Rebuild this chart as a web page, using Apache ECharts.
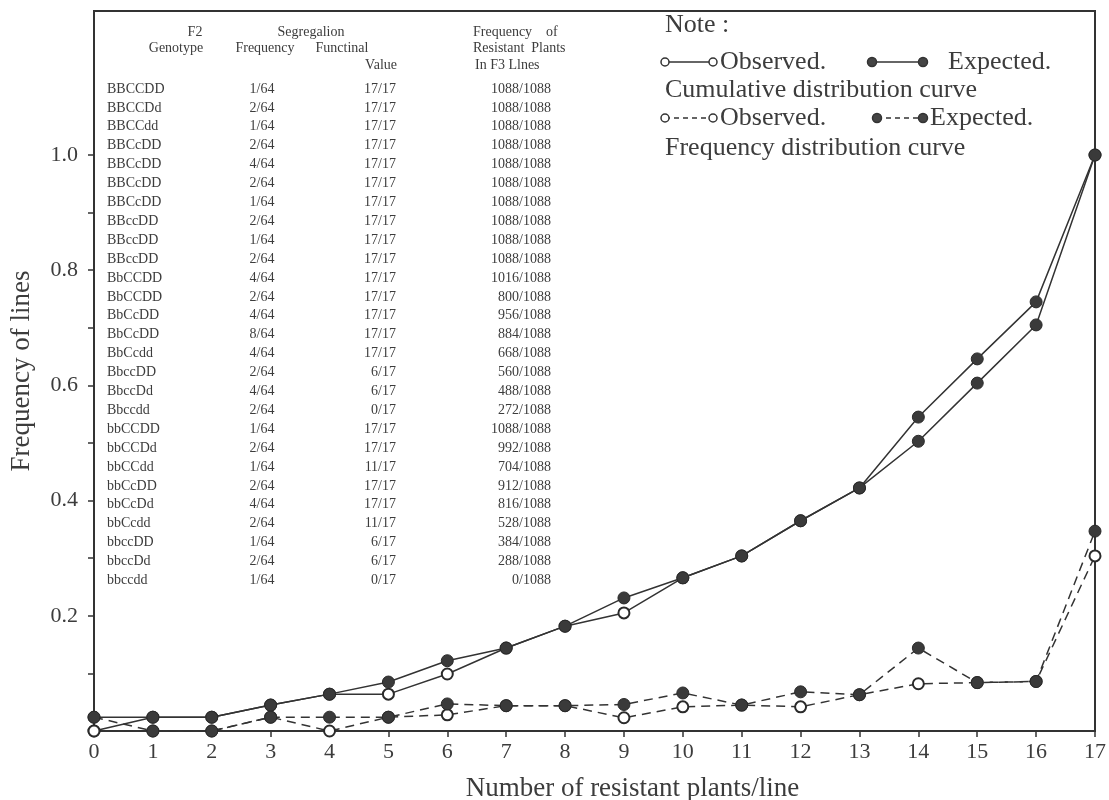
<!DOCTYPE html>
<html><head><meta charset="utf-8">
<script src="https://cdn.jsdelivr.net/npm/echarts@6/dist/echarts.min.js"></script>
<style>html,body{margin:0;padding:0;background:#fff}#c{width:1109px;height:800px}</style>
</head><body><div id="c"></div>
<script>
// ---------- data ----------
const xValues = [0,1,2,3,4,5,6,7,8,9,10,11,12,13,14,15,16,17];
const cumExpected  = [0.024,0.024,0.024,0.045,0.064,0.085,0.122,0.144,0.182,0.231,0.266,0.304,0.365,0.422,0.545,0.646,0.745,1.0];
const cumObserved  = [0.000,0.024,0.024,0.045,0.064,0.064,0.099,0.144,0.182,0.205,0.266,0.304,0.365,0.422,0.503,0.604,0.705,1.0];
const freqExpected = [0.024,0.000,0.000,0.024,0.024,0.024,0.047,0.044,0.044,0.046,0.066,0.045,0.068,0.063,0.144,0.084,0.086,0.347];
const freqObserved = [0.000,0.000,0.000,0.024,0.000,0.024,0.028,0.044,0.044,0.023,0.042,0.045,0.042,0.063,0.082,0.084,0.086,0.304];
const yTickValues = [0.1,0.2,0.3,0.4,0.5,0.6,0.7,0.8,0.9,1.0];
const yLabelValues = [0.2,0.4,0.6,0.8,1.0];
const yTickLabels = ['0.2','0.4','0.6','0.8','1.0'];

const genotypes = ['BBCCDD','BBCCDd','BBCCdd','BBCcDD','BBCcDD','BBCcDD','BBCcDD','BBccDD','BBccDD','BBccDD',
  'BbCCDD','BbCCDD','BbCcDD','BbCcDD','BbCcdd','BbccDD','BbccDd','Bbccdd','bbCCDD','bbCCDd','bbCCdd',
  'bbCcDD','bbCcDd','bbCcdd','bbccDD','bbccDd','bbccdd'];
const segFreq = ['1/64','2/64','1/64','2/64','4/64','2/64','1/64','2/64','1/64','2/64','4/64','2/64','4/64','8/64',
  '4/64','2/64','4/64','2/64','1/64','2/64','1/64','2/64','4/64','2/64','1/64','2/64','1/64'];
const funcValue = ['17/17','17/17','17/17','17/17','17/17','17/17','17/17','17/17','17/17','17/17','17/17','17/17',
  '17/17','17/17','17/17','6/17','6/17','0/17','17/17','17/17','11/17','17/17','17/17','11/17','6/17','6/17','0/17'];
const resistFreq = ['1088/1088','1088/1088','1088/1088','1088/1088','1088/1088','1088/1088','1088/1088','1088/1088',
  '1088/1088','1088/1088','1016/1088','800/1088','956/1088','884/1088','668/1088','560/1088','488/1088','272/1088',
  '1088/1088','992/1088','704/1088','912/1088','816/1088','528/1088','384/1088','288/1088','0/1088'];

const headerCol1 = ['F2','Genotype'];
const headerCol2 = ['Segregalion','Frequency','Functinal','Value'];
const headerCol4 = ['Frequency    of','Resistant  Plants','In F3 Llnes'];
const legendTexts = ['Note :','Observed.','Expected.','Cumulative distribution curve','Observed.','Expected.','Frequency distribution curve'];

// ---------- chart ----------
const FONT = 'Liberation Serif';
const INK = '#333';
const TXT = '#3c3c3c';
const chart = echarts.init(document.getElementById('c'), null, {renderer:'canvas'});

const filledItem = {color:'#3a3a3a', borderColor:'#2a2a2a', borderWidth:1};
const openItem = {color:'#2a2a2a', borderWidth:2.2};

function pts(arr){ return arr.map((v,i)=>[xValues[i], v]); }
const cumObsData = cumObserved.map((v,i)=>{
  if (i>=14 && i<=16) return {value:[xValues[i],v], symbol:'circle', symbolSize:12, itemStyle:filledItem};
  return [xValues[i], v];
});

const g = [];
function txt(x,y,s,size,align){
  g.push({type:'text', x:x, y:y, silent:true,
    style:{text:s, fill:TXT, font: size+'px "'+FONT+'"', textAlign:align||'left', textVerticalAlign:'middle'}});
}
// table header
txt(195,32,headerCol1[0],14,'center');
txt(176,48,headerCol1[1],14,'center');
txt(311,32,headerCol2[0],14,'center');
txt(265,48,headerCol2[1],14,'center');
txt(342,48,headerCol2[2],14,'center');
txt(397,65,headerCol2[3],14,'right');
txt(473,32,headerCol4[0],14,'left');
txt(473,48,headerCol4[1],14,'left');
txt(475,65,headerCol4[2],14,'left');
// table rows
for (let i=0;i<genotypes.length;i++){
  const y = 89 + i*18.9;
  txt(107,y,genotypes[i],14,'left');
  txt(262,y,segFreq[i],14,'center');
  txt(396,y,funcValue[i],14,'right');
  txt(551,y,resistFreq[i],14,'right');
}
// legend note
const LF = 26;
txt(665,25,legendTexts[0],LF,'left');
function lline(x1,y,x2,dash){ g.push({type:'line', silent:true, shape:{x1:x1,y1:y,x2:x2,y2:y}, style:{stroke:INK, lineWidth:1.3, lineDash:dash||null}}); }
function lcirc(x,y,filled){ g.push({type:'circle', silent:true, shape:{cx:x,cy:y,r:filled?4.5:4}, style:{fill:filled?'#444':'#fff', stroke:INK, lineWidth:1.5}}); }
lline(665,62,713); lcirc(665,62,false); lcirc(713,62,false);
txt(720,62,legendTexts[1],LF,'left');
lline(872,62,923); lcirc(872,62,true); lcirc(923,62,true);
txt(948,62,legendTexts[2],LF,'left');
txt(665,90,legendTexts[3],LF,'left');
lline(665,118,713,[5,4]); lcirc(665,118,false); lcirc(713,118,false);
txt(720,118,legendTexts[4],LF,'left');
lline(877,118,923,[5,4]); lcirc(877,118,true); lcirc(923,118,true);
txt(930,118,legendTexts[5],LF,'left');
txt(665,148,legendTexts[6],LF,'left');

const solid = {color:INK, width:1.5, type:'solid'};
const dashed = {color:INK, width:1.5, type:[9,6]};

const option = {
  animation:false,
  backgroundColor:'#ffffff',
  grid:{left:94, right:14, top:11, bottom:69, containLabel:false, outerBoundsMode:'none',
    show:true, borderColor:INK, borderWidth:2, backgroundColor:'transparent'},
  xAxis:{type:'value', min:0, max:17, interval:1,
    axisLine:{show:true, onZero:false, lineStyle:{color:INK, width:2}},
    axisTick:{show:true, inside:false, length:6, lineStyle:{color:INK, width:1.5}},
    axisLabel:{fontFamily:FONT, fontSize:22, color:TXT, margin:10},
    splitLine:{show:false},
    name:'Number of resistant plants/line', nameLocation:'middle', nameGap:44,
    nameTextStyle:{fontFamily:FONT, fontSize:27, color:TXT, padding:[0,0,0,76]}
  },
  yAxis:{type:'value', min:0, max:1.25, interval:0.1,
    axisLine:{show:true, lineStyle:{color:INK, width:2}},
    axisTick:{show:true, inside:false, length:6, customValues:yTickValues, lineStyle:{color:INK, width:1.5}},
    axisLabel:{fontFamily:FONT, fontSize:22, color:TXT, margin:16, customValues:yLabelValues,
      formatter:function(v){ const k=Math.round(v*5)-1; return yTickLabels[k] || ''; }},
    splitLine:{show:false},
    name:'Frequency of lines', nameLocation:'middle', nameGap:59, nameRotate:90,
    nameTextStyle:{fontFamily:FONT, fontSize:27, color:TXT}
  },
  series:[
    {name:'Cumulative observed', type:'line', data:cumObsData, symbol:'emptyCircle', symbolSize:11,
      lineStyle:solid, itemStyle:openItem, z:2},
    {name:'Frequency observed', type:'line', data:pts(freqObserved), symbol:'emptyCircle', symbolSize:11,
      lineStyle:dashed, itemStyle:openItem, z:2},
    {name:'Cumulative expected', type:'line', data:pts(cumExpected), symbol:'circle', symbolSize:12,
      lineStyle:solid, itemStyle:filledItem, z:3},
    {name:'Frequency expected', type:'line', data:pts(freqExpected), symbol:'circle', symbolSize:12,
      lineStyle:dashed, itemStyle:filledItem, z:3}
  ],
  graphic:g
};
chart.setOption(option);
</script>
</body></html>
